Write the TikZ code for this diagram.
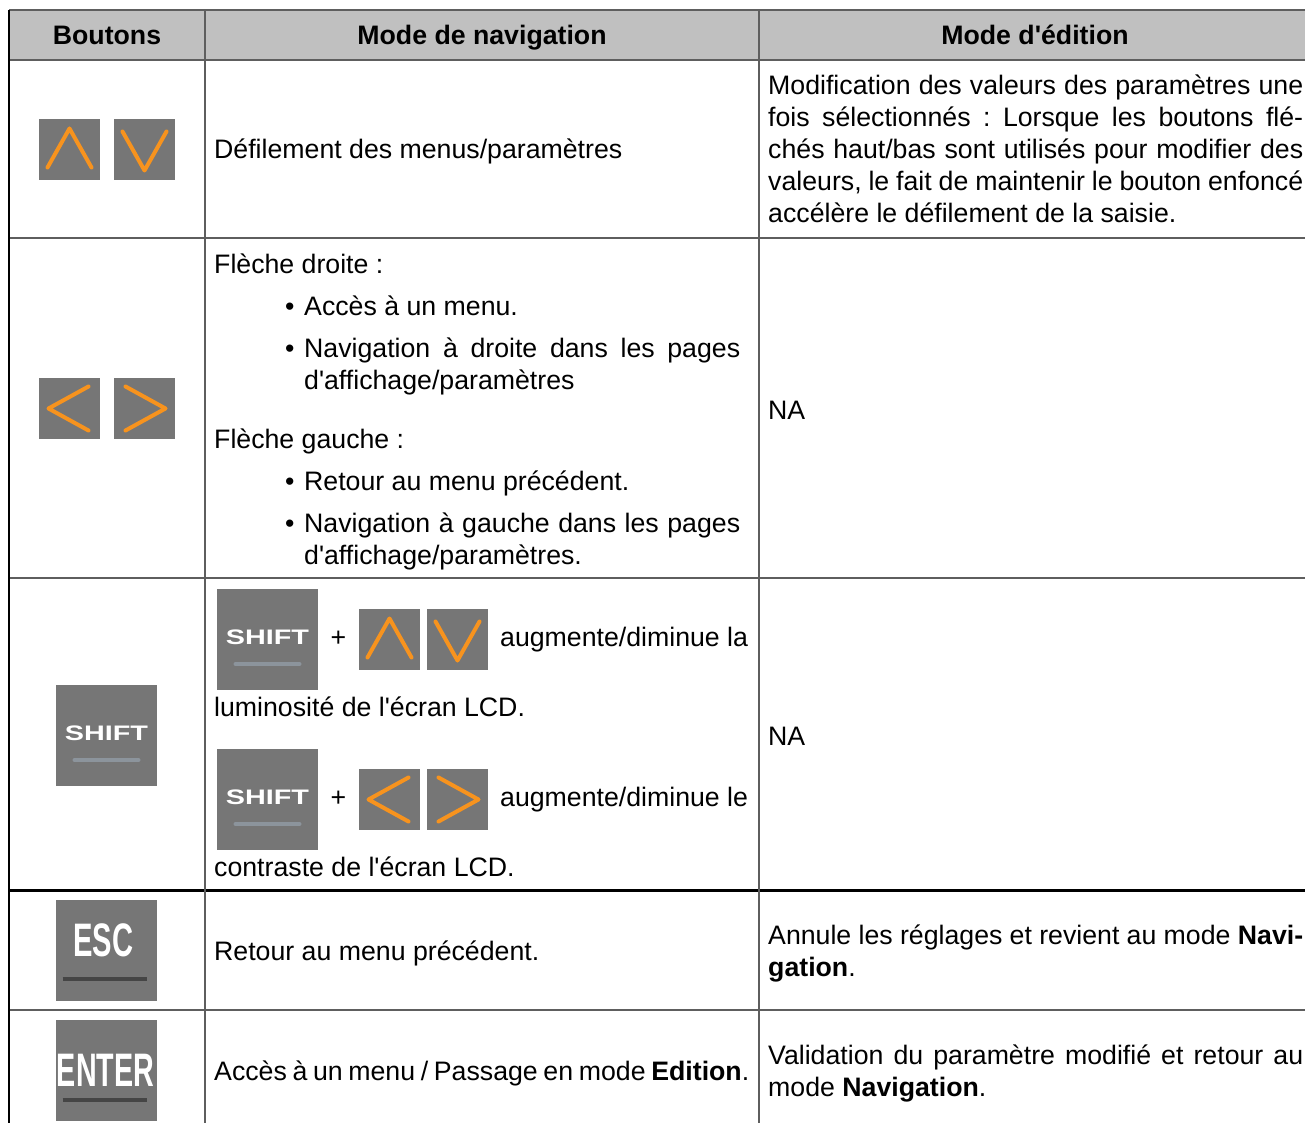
\documentclass[tikz,border=0pt]{standalone}
\usepackage{fontspec}
\setmainfont{Liberation Sans}
\usepackage{tikz}

\definecolor{entete}{HTML}{C0C0C0}
\definecolor{trait}{HTML}{5E5E5E}
\definecolor{touche}{HTML}{767676}
\definecolor{fleche}{HTML}{F7931E}
\definecolor{barreclaire}{HTML}{8C949C}
\definecolor{barresombre}{HTML}{454545}
\newcommand{\txt}{\fontsize{26.7}{32}\selectfont\frenchspacing}
\newcommand{\apos}{\textquotesingle}

\begin{document}
\begin{tikzpicture}[x=1pt, y=-1pt,  % 1pt = 1 像素, y 轴向下
    grille/.style={draw=trait, line width=2pt},
    txt/.style={anchor=base west, inner sep=0pt, font=\txt},
    signe/.style={anchor=base, inner sep=0pt, font=\txt},
    tete/.style={anchor=base, inner sep=0pt, font=\txt\bfseries},
    btn/.style={fill=touche, minimum size=61pt, inner sep=0pt},
    cle/.style={fill=touche, minimum size=101pt, inner sep=0pt},
    chev/.style={draw=fleche, line width=4pt, line cap=round, line join=round},
    cletxt/.style={inner sep=0pt, text=white, font=\bfseries}]
    \useasboundingbox (0,0) rectangle (1305,1123);

    % 表头
    \fill[entete] (9,10) rectangle (1305,60);
    \node[tete] (hBoutons) at (107,45) {Boutons};
    \node[tete] (hNav) at (482,45) {Mode de navigation};
    \node[tete] (hEdit) at (1035,45) {Mode d\apos édition};

    % 表格线
    \foreach \y in {10,60,238,578,1010}
        \draw[grille] (9,\y) -- (1305,\y);
    \draw[line width=3pt] (9,890) -- (1305,890);
    \foreach \x in {205,759}
        \draw[grille] (\x,10) -- (\x,1123);
    \draw[line width=2.5pt] (9,10) -- (9,1123);

    % 按钮: 上 / 下
    \foreach \n/\x/\y in {hA/69.5/149.5, hB/389.5/639.5}{
        \node[btn] (\n) at (\x,\y) {};
        \draw[chev] ([shift={(-22,18)}]\n.center) -- ([shift={(0,-21)}]\n.center) -- ([shift={(22,18)}]\n.center);
    }
    \foreach \n/\x/\y in {bA/144.5/149.5, bB/457.5/639.5}{
        \node[btn] (\n) at (\x,\y) {};
        \draw[chev] ([shift={(-22,-18)}]\n.center) -- ([shift={(0,21)}]\n.center) -- ([shift={(22,-18)}]\n.center);
    }
    % 按钮: 左 / 右
    \foreach \n/\x/\y in {gA/69.5/408.5, gB/389.5/799.5}{
        \node[btn] (\n) at (\x,\y) {};
        \draw[chev] ([shift={(19,-22)}]\n.center) -- ([shift={(-21,0)}]\n.center) -- ([shift={(19,22)}]\n.center);
    }
    \foreach \n/\x/\y in {dA/144.5/408.5, dB/457.5/799.5}{
        \node[btn] (\n) at (\x,\y) {};
        \draw[chev] ([shift={(-19,-22)}]\n.center) -- ([shift={(21,0)}]\n.center) -- ([shift={(-19,22)}]\n.center);
    }
    % SHIFT 键
    \foreach \n/\x/\y in {sA/106.5/735.5, sB/267.5/639.5, sC/267.5/799.5}{
        \node[cle] (\n) at (\x,\y) {};
        \node[cletxt, font=\fontsize{21}{21}\selectfont\bfseries] (\n t) at ([shift={(0,-2)}]\n.center) {\scalebox{1.37}[1]{SHIFT}};
        \draw[barreclaire, line width=4pt, line cap=round] ([shift={(-32,24.5)}]\n.center) -- ([shift={(32,24.5)}]\n.center);
    }
    % ESC / ENTER
    \node[cle] (esc) at (106.5,950.5) {};
    \node[cletxt, font=\fontsize{47}{47}\selectfont\bfseries] (esct) at ([shift={(-3,-10.5)}]esc.center) {\scalebox{0.62}[1]{ESC}};
    \draw[barresombre, line width=3.5pt] ([shift={(-44,28.5)}]esc.center) -- ([shift={(40,28.5)}]esc.center);
    \node[cle] (enter) at (106.5,1070.5) {};
    \node[cletxt, font=\fontsize{47}{47}\selectfont\bfseries] (entert) at ([shift={(-1,-0.5)}]enter.center) {\scalebox{0.61}[1]{ENTER}};
    \draw[barresombre, line width=3.5pt] ([shift={(-44,29.5)}]enter.center) -- ([shift={(40,29.5)}]enter.center);

    % 第一行
    \node[txt] (n1) at (214,159) {Défilement des menus/paramètres};
    \node[txt] (e1a) at (768,95) {\makebox[535pt][s]{Modification des valeurs des paramètres une}};
    \node[txt] (e1b) at (768,127) {\makebox[535pt][s]{fois sélectionnés : Lorsque les boutons flé-}};
    \node[txt] (e1c) at (768,159) {\makebox[535pt][s]{chés haut/bas sont utilisés pour modifier des}};
    \node[txt] (e1d) at (768,191) {\makebox[535pt][s]{valeurs, le fait de maintenir le bouton enfoncé}};
    \node[txt] (e1e) at (768,223) {accélère le défilement de la saisie.};

    % 第二行
    \node[txt] (n2a) at (214,273) {Flèche droite :};
    \node[txt] (p2a) at (285,315) {•};
    \node[txt] (n2b) at (304,315) {Accès à un menu.};
    \node[txt] (p2b) at (285,357) {•};
    \node[txt] (n2c) at (304,357) {\makebox[436pt][s]{Navigation à droite dans les pages}};
    \node[txt] (n2d) at (304,389) {d\apos affichage/paramètres};
    \node[txt] (n2e) at (214,448) {Flèche gauche :};
    \node[txt] (p2c) at (285,490) {•};
    \node[txt] (n2f) at (304,490) {Retour au menu précédent.};
    \node[txt] (p2d) at (285,532) {•};
    \node[txt] (n2g) at (304,532) {\makebox[436pt][s]{Navigation à gauche dans les pages}};
    \node[txt] (n2h) at (304,564) {d\apos affichage/paramètres.};
    \node[txt] (e2) at (768,419) {NA};

    % 第三行
    \node[signe] (plusA) at (338.5,646) {+};
    \node[txt] (n3a) at (500,646) {augmente/diminue la};
    \node[txt] (n3b) at (214,716) {luminosité de l\apos écran LCD.};
    \node[signe] (plusB) at (338.5,806) {+};
    \node[txt] (n3c) at (500,806) {augmente/diminue le};
    \node[txt] (n3d) at (214,876) {contraste de l\apos écran LCD.};
    \node[txt] (e3) at (768,745) {NA};

    % 第四行
    \node[txt] (n4) at (214,960) {Retour au menu précédent.};
    \node[txt] (e4a) at (768,944) {\makebox[535pt][s]{Annule les réglages et revient au mode \textbf{Navi-}}};
    \node[txt] (e4b) at (768,976) {\textbf{gation}.};

    % 第五行
    \node[txt] (n5) at (214,1080) {\makebox[535pt][s]{Accès à un menu / Passage en mode \textbf{Edition}.}};
    \node[txt] (e5a) at (768,1064) {\makebox[535pt][s]{Validation du paramètre modifié et retour au}};
    \node[txt] (e5b) at (768,1096) {mode \textbf{Navigation}.};
\end{tikzpicture}
\end{document}
